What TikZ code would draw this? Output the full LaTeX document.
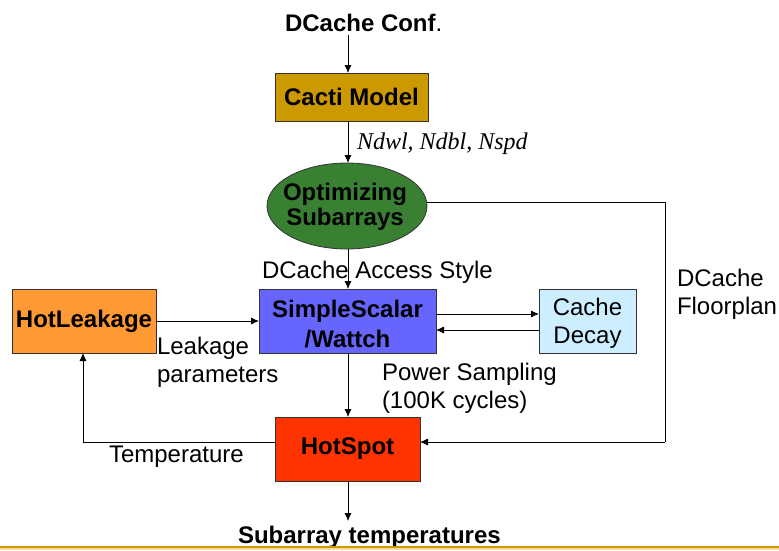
\documentclass[tikz,border=0pt]{standalone}
\usepackage{fontspec}
\setmainfont{Liberation Sans}
\newfontfamily\timesfont{Liberation Serif}
\usetikzlibrary{arrows.meta,shapes.geometric}
\begin{document}
\begin{tikzpicture}[x=1pt,y=-1pt,
  font=\fontsize{24}{28}\selectfont,
  every node/.style={inner sep=0pt,outer sep=0pt},
  blk/.style={draw=black!80,line width=0.8pt,minimum height=64pt,align=center,font=\fontsize{24}{28}\selectfont\bfseries},
  lbl/.style={anchor=base west,align=left},
  flow/.style={draw=black,line width=0.8pt,-{Latex[length=8pt,width=7pt]}},
  wire/.style={draw=black,line width=0.8pt}]
\definecolor{cactigold}{HTML}{CC9900}
\definecolor{optgreen}{HTML}{3A8033}
\definecolor{ssblue}{HTML}{6666FF}
\definecolor{decayblue}{HTML}{CCEEFF}
\definecolor{leakorange}{HTML}{FF9933}
\definecolor{hotred}{HTML}{FF3300}
\definecolor{rulegold}{HTML}{CC9900}
\definecolor{rulelight}{HTML}{FFD9A0}
\useasboundingbox (0,0) rectangle (779,550);

% blocks
\node[blk,fill=cactigold,minimum width=153pt,minimum height=48pt] (cacti) at (351.5,97) {Cacti Model};
\node[ellipse,draw=black!80,line width=0.8pt,fill=optgreen,minimum width=160pt,minimum height=86pt,inner sep=0pt] (opt) at (347,206) {};
\node[font=\fontsize{24}{25}\selectfont\bfseries,align=center] at (345,207) {Optimizing\\Subarrays};
\node[blk,fill=ssblue,minimum width=177pt] (ss) at (347.5,321) {};
\node[font=\fontsize{24}{30}\selectfont\bfseries,align=center] at (347.5,324) {SimpleScalar\\/Wattch};
\node[blk,fill=decayblue,minimum width=97pt] (decay) at (587.5,321) {};
\node[align=center] at (587.5,323) {Cache\\Decay};
\node[blk,fill=leakorange,minimum width=144pt] (leak) at (84,321) {HotLeakage};
\node[blk,fill=hotred,minimum width=145pt] (hot) at (347.5,449) {HotSpot};

% free ends
\coordinate (conf) at (348,35);
\coordinate (out) at (348,521);
\coordinate (fpcorner) at (665,202);
\coordinate (fpdown) at (665,442);
\coordinate (tleft) at (83,442);

% connectors
\draw[flow] (conf) -- (cacti.north -| conf);
\draw[flow] (cacti.south -| conf) -- (opt.north -| conf);
\draw[flow] (opt.south -| conf) -- (ss.north -| conf);
\draw[flow] (ss.south -| conf) -- (hot.north -| conf);
\draw[flow] (hot.south -| conf) -- (out);
\draw[flow] ([yshift=7pt]ss.east) -- ([yshift=7pt]decay.west);
\draw[flow] ([yshift=-9pt]decay.west) -- ([yshift=-9pt]ss.east);
\draw[flow] (leak.east) -- (ss.west);
\draw[wire] (opt.east |- fpcorner) -- (fpcorner) -- (fpdown);
\draw[flow] (fpdown) -- (hot.east |- fpdown);
\draw[wire] (hot.west |- tleft) -- (tleft);
\draw[flow] (tleft) -- (leak.south -| tleft);

% texts
\node[lbl] at (285,31) {\textbf{DCache Conf}.};
\node[lbl,font=\fontsize{24}{28}\selectfont\timesfont\itshape] at (357,149) {Ndwl, Ndbl, Nspd};
\node[lbl] at (262,278) {DCache Access Style};
\node[lbl] at (157,382) {Leakage\\parameters};
\node[lbl] at (382,408) {Power Sampling\\(100K cycles)};
\node[lbl] at (677,314) {DCache\\Floorplan};
\node[lbl] at (109,462) {Temperature};
\node[lbl,font=\fontsize{24}{28}\selectfont\bfseries] at (238,543) {Subarray temperatures};

% rule along the foot
\fill[rulegold] (0,545.5) rectangle (779,548);
\fill[rulelight] (0,548) rectangle (779,549.5);
\end{tikzpicture}
\end{document}
